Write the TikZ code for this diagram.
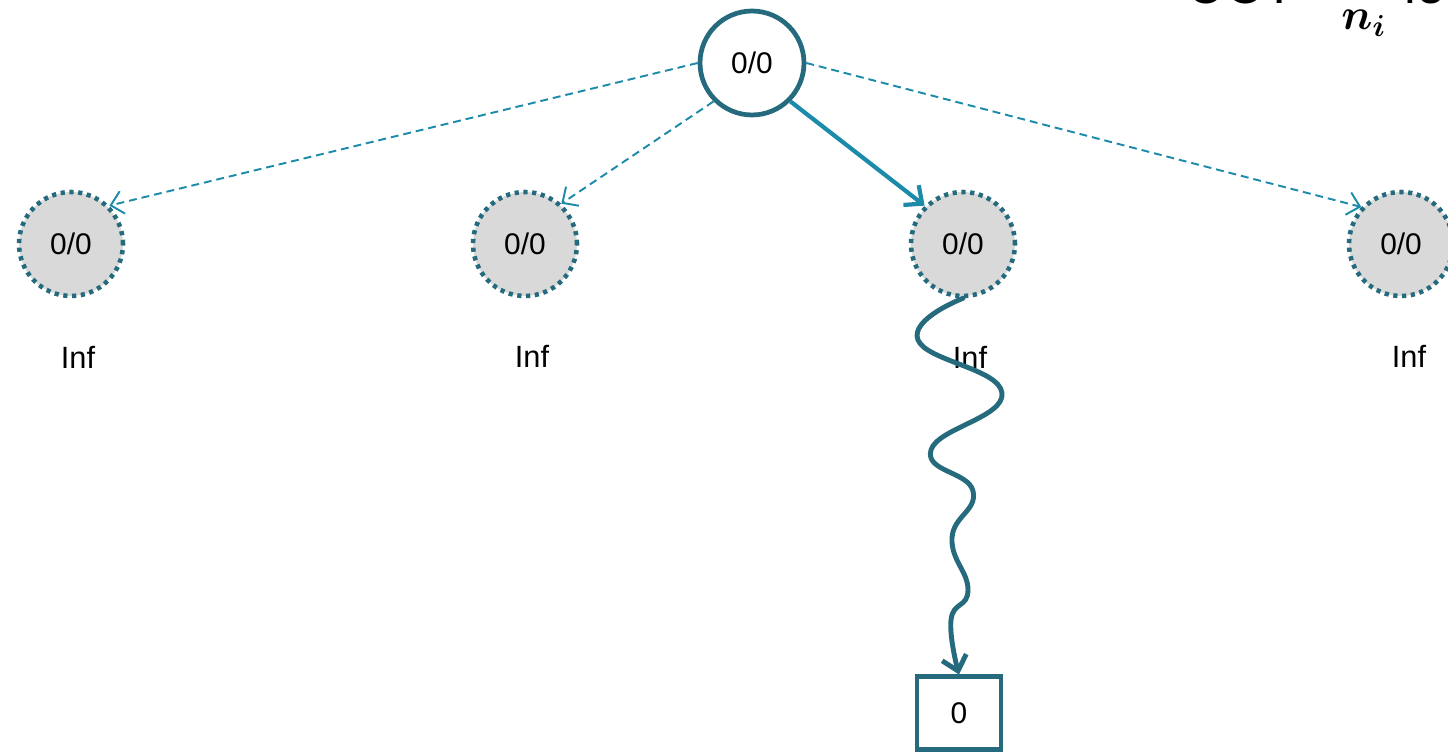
\documentclass[tikz,border=0pt]{standalone}
\usepackage{amsmath}
\usepackage{fontspec}
\setmainfont{Liberation Sans}
\usetikzlibrary{arrows.meta}
\definecolor{deepteal}{HTML}{256B7D}
\definecolor{lightteal}{HTML}{1C8BA9}
\definecolor{nodegray}{HTML}{D9D9D9}
\tikzset{
  treenode/.style={circle, minimum size=2.08cm, inner sep=0pt, font=\fontsize{17}{20}\selectfont},
  rootnode/.style={treenode, draw=deepteal, line width=2.7pt, fill=white},
  childnode/.style={treenode, draw=deepteal, fill=nodegray, line width=2.6pt, dash pattern=on 2.4pt off 2.6pt},
  infbox/.style={inner sep=0pt, font=\fontsize{17.5}{20}\selectfont},
  leafnode/.style={draw=deepteal, line width=2.3pt, minimum width=1.68cm, minimum height=1.46cm, inner sep=0pt, font=\fontsize{17}{20}\selectfont},
  dashedge/.style={draw=lightteal, line width=1.1pt, dash pattern=on 4.5pt off 2.8pt, -{Straight Barb[length=2.4mm,width=4.6mm]}},
  bestedge/.style={draw=lightteal, line width=2.4pt, -{Straight Barb[length=2.8mm,width=5mm]}},
  wavyedge/.style={draw=deepteal, line width=2.8pt, line cap=round, -{Straight Barb[length=2.8mm,width=5mm]}},
  bigtext/.style={anchor=base west, inner sep=0pt, font=\fontsize{30}{36}\selectfont}
}
\begin{document}
\begin{tikzpicture}[x=0.02cm, y=-0.02cm]
  \useasboundingbox (0,0) rectangle (1448,753);

  % formula, cut at the top edge
  \node[bigtext] (uct) at (1187,4) {UCT};
  \node[anchor=base west, inner sep=0pt, font=\fontsize{23}{28}\selectfont] (ni) at (1341,30) {$\boldsymbol{n_i}$};
  \node[bigtext] (logpart) at (1404,4) {log};

  % tree
  \node[rootnode] (root) at (752,63) {0/0};
  \node[childnode] (c1) at (71,244) {0/0};
  \node[childnode] (c2) at (525,244) {0/0};
  \node[childnode] (c3) at (963,244) {0/0};
  \node[childnode] (c4) at (1401,244) {0/0};
  \node[infbox] (v1) at (78,357) {Inf};
  \node[infbox] (v2) at (532,356) {Inf};
  \node[infbox] (v3) at (970,357) {Inf};
  \node[infbox] (v4) at (1409,356) {Inf};
  \node[leafnode] (leaf) at (959,713) {0};

  \draw[dashedge] (root.180) -- (c1.45);
  \draw[dashedge] (root.225) -- (c2.48);
  \draw[bestedge] (root.315) -- (c3.135);
  \draw[dashedge] (root.0) -- (c4.137);

  % rollout
  \draw[wavyedge] plot[smooth, tension=0.8] coordinates {(c3.south) (918,340) (1002,393) (931,450) (973,491) (952,538) (968,590) (951,620) (leaf.north)};
\end{tikzpicture}
\end{document}
